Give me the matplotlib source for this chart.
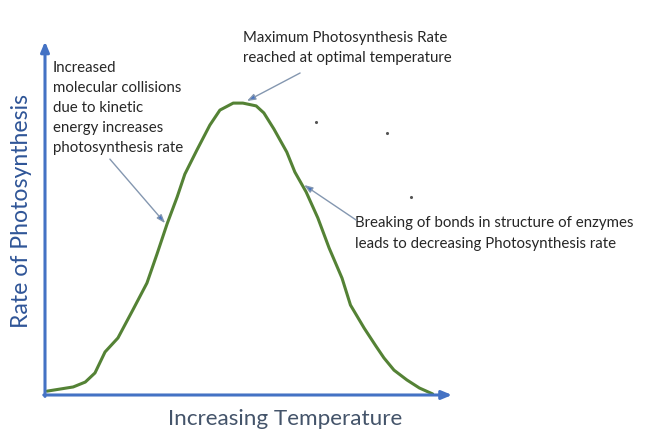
import matplotlib.pyplot as plt

# curve: temperature (0-100) vs rate (0-100)
temperature = [0.5, 7, 10, 12.4, 14.9, 18.1, 21.8, 25.3, 27.8, 30.3, 32.8, 34.7,
               37.7, 40.9, 43.4, 46.7, 49.1, 52.4, 54.3, 56.8, 60.0, 62.0, 64.8,
               67.7, 70.5, 73.7, 75.8, 79.2, 82.1, 84.1, 86.6, 89.8, 92.9, 96.2]
rate = [1.1, 2.3, 3.7, 6.3, 12.3, 16.3, 24.3, 32.0, 40.3, 48.9, 56.6, 63.1,
        70.0, 77.1, 81.4, 83.4, 83.4, 82.6, 80.6, 76.0, 69.4, 63.7, 58.0,
        50.6, 42.0, 33.4, 25.7, 19.1, 14.0, 10.6, 7.1, 4.3, 2.0, 0.3]

notes = ["Increased\nmolecular collisions\ndue to kinetic\nenergy increases\nphotosynthesis rate",
         "Maximum Photosynthesis Rate\nreached at optimal temperature",
         "Breaking of bonds in structure of enzymes\nleads to decreasing Photosynthesis rate"]
note_xy = [(2.0, 95.4), (49.1, 103.9), (76.9, 51.0)]      # text anchor (top left)
note_tail = [(16.1, 67.4), (63.3, 92.0), (77.2, 50.0)]
note_head = [(29.8, 49.1), (50.1, 84.0), (64.3, 60.0)]
dots_x = [67.2, 84.9, 90.8]
dots_y = [78.0, 74.9, 56.6]

plt.rcParams['font.family'] = ['Lato', 'DejaVu Sans']

fig = plt.figure(figsize=(6.52, 4.37), dpi=100)
ax = fig.add_axes([45 / 652, 42 / 437, 403 / 652, 350 / 437])
ax.set_xlim(0, 100)
ax.set_ylim(0, 100)
ax.axis('off')

# axes drawn as arrows
ax.annotate('', xy=(101, 0), xytext=(-0.3, 0), annotation_clip=False,
            arrowprops=dict(arrowstyle='-|>,head_length=0.6,head_width=0.25',
                            color='#4472c4', lw=2.2, shrinkA=0, shrinkB=0))
ax.annotate('', xy=(0, 101), xytext=(0, -0.4), annotation_clip=False,
            arrowprops=dict(arrowstyle='-|>,head_length=0.6,head_width=0.25',
                            color='#4472c4', lw=2.2, shrinkA=0, shrinkB=0))

ax.plot(temperature, rate, color='#548235', lw=2.2, solid_capstyle='round', clip_on=False)

for txt, xy, tail, head in zip(notes, note_xy, note_tail, note_head):
    ax.text(xy[0], xy[1], txt, fontsize=10.8, color='#262626', va='top', ha='left',
            linespacing=1.55, clip_on=False)
    ax.annotate('', xy=head, xytext=tail, annotation_clip=False,
                arrowprops=dict(arrowstyle='-|>,head_length=0.5,head_width=0.18',
                                color='#8497b0', lw=1.0, shrinkA=0, shrinkB=0,
                                fc='#4472c4'))

ax.scatter(dots_x, dots_y, s=1.5, color='#555555', clip_on=False)

fig.text(22 / 652, 1 - 211 / 437, 'Rate of Photosynthesis', rotation=90,
         fontsize=16.6, color='#2f5597', ha='center', va='center')
fig.text(285 / 652, 1 - 419 / 437, 'Increasing Temperature',
         fontsize=16.2, color='#44546a', ha='center', va='center')

fig.savefig('out.png', dpi=100)
